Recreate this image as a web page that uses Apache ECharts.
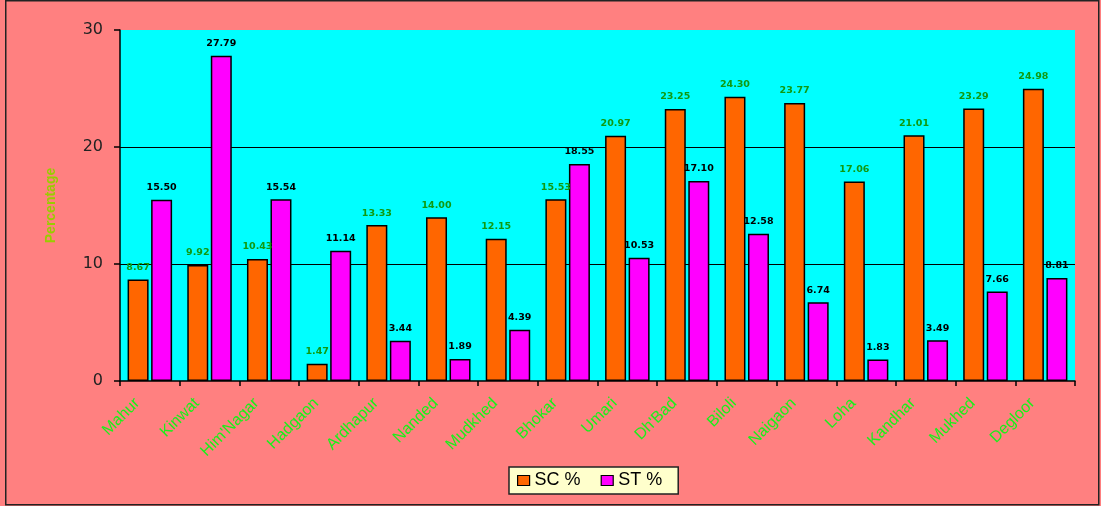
<!DOCTYPE html>
<html><head><meta charset="utf-8">
<script src="https://cdn.jsdelivr.net/npm/echarts@6/dist/echarts.min.js"></script>
<style>html,body{margin:0;padding:0;background:#FF8080}#c{width:1101px;height:506px}</style>
</head><body><div id="c"></div>
<script>
const categories = ['Mahur','Kinwat',"Him'Nagar",'Hadgaon','Ardhapur','Nanded','Mudkhed','Bhokar','Umari',"Dh'Bad",'Biloli','Naigaon','Loha','Kandhar','Mukhed','Degloor'];
const scValues = [8.67, 9.92, 10.43, 1.47, 13.33, 14.00, 12.15, 15.53, 20.97, 23.25, 24.30, 23.77, 17.06, 21.01, 23.29, 24.98];
const stValues = [15.50, 27.79, 15.54, 11.14, 3.44, 1.89, 4.39, 18.55, 10.53, 17.10, 12.58, 6.74, 1.83, 3.49, 7.66, 8.81];
const yTicks = [0, 10, 20, 30];

const chart = echarts.init(document.getElementById('c'), null, {renderer: 'canvas'});
const lbl = (color) => ({
  show: true, position: 'top', distance: 7,
  formatter: p => p.value.toFixed(2),
  color: color, fontFamily: 'DejaVu Sans', fontWeight: 'bold', fontSize: 9.5
});
chart.setOption({
  backgroundColor: '#FF8080',
  animation: false,
  graphic: [{
    type: 'rect', left: 5, top: 0, z: -10,
    shape: {width: 1093, height: 504},
    style: {fill: '#FF8080', stroke: '#222', lineWidth: 1.5}
  }],
  grid: {
    left: 120, right: 26, top: 30, bottom: 125,
    show: true, backgroundColor: '#00FFFF', borderWidth: 0
  },
  legend: {
    data: ['SC %', 'ST %'],
    left: 509, top: 467,
    backgroundColor: '#FFFFCC', borderColor: '#222', borderWidth: 1.5,
    padding: [4, 16, 4, 8], itemGap: 20,
    itemWidth: 12, itemHeight: 10, icon: 'rect',
    itemStyle: {borderColor: '#000', borderWidth: 1.2},
    textStyle: {fontFamily: 'Liberation Sans', fontSize: 18, color: '#000', lineHeight: 19}
  },
  xAxis: {
    type: 'category', data: categories,
    axisLine: {show: true, lineStyle: {color: '#000', width: 1.5}},
    axisTick: {show: true, length: 5, lineStyle: {color: '#000', width: 1.5}},
    axisLabel: {
      rotate: 45, interval: 0, color: '#1AF01A', fontFamily: 'Liberation Sans',
      fontSize: 16, margin: 7, padding: [0, 18, 0, 0]
    }
  },
  yAxis: {
    type: 'value', min: 0, max: 30, interval: 10,
    name: 'Percentage', nameLocation: 'middle', nameGap: 62, nameRotate: 90,
    nameTextStyle: {color: '#99CC00', fontFamily: 'Liberation Sans', fontWeight: 'bold', fontSize: 14},
    axisLine: {show: true, lineStyle: {color: '#000', width: 1.5}},
    axisTick: {show: true, length: 6, lineStyle: {color: '#000', width: 1.5}},
    axisLabel: {color: '#222', fontFamily: 'DejaVu Sans', fontSize: 16, margin: 17,
      formatter: v => yTicks.includes(v) ? String(v) : ''},
    splitLine: {show: true, lineStyle: {color: ['transparent', '#000', '#000', 'transparent'], width: 1.2}}
  },
  series: [
    {name: 'SC %', type: 'bar', data: scValues, barWidth: 21, barGap: '12%',
      itemStyle: {color: '#FF6600', borderColor: '#000', borderWidth: 1.5},
      label: lbl('#119911')},
    {name: 'ST %', type: 'bar', data: stValues, barWidth: 21,
      itemStyle: {color: '#FF00FF', borderColor: '#000', borderWidth: 1.5},
      label: lbl('#000')}
  ]
});
</script></body></html>
